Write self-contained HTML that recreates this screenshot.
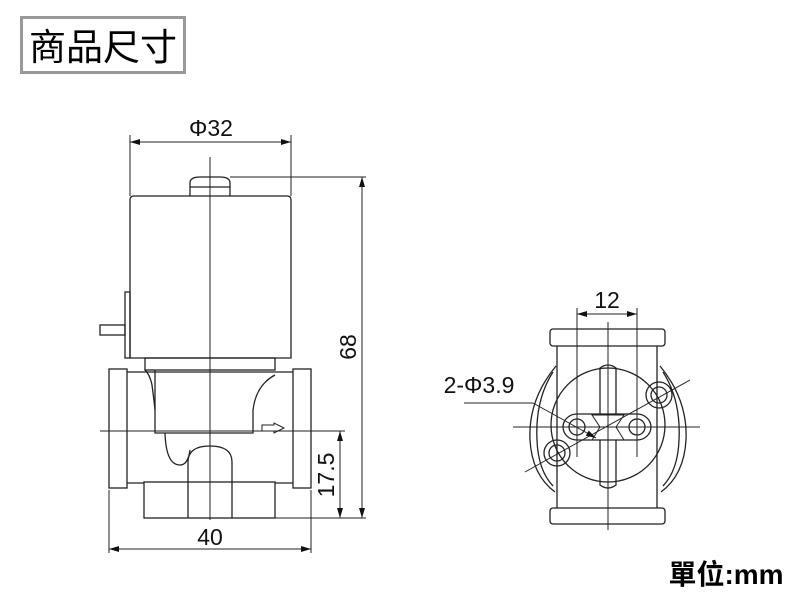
<!DOCTYPE html>
<html><head><meta charset="utf-8"><style>
html,body{margin:0;padding:0;background:#fff;width:800px;height:600px;overflow:hidden}
svg{display:block}
</style></head><body>
<svg width="800" height="600" viewBox="0 0 800 600" xmlns="http://www.w3.org/2000/svg">
<defs>
<marker id="a" viewBox="0 0 10 6" refX="10" refY="3" markerWidth="10" markerHeight="6" orient="auto-start-reverse" markerUnits="userSpaceOnUse">
<path d="M0,0 L10,3 L0,6 Z" fill="#111"/></marker>
</defs>
<rect x="21.5" y="17.5" width="163" height="55" fill="#fff" stroke="#999" stroke-width="3"/>
<text x="103" y="60" text-anchor="middle" font-family="Liberation Sans,'Noto Sans CJK TC',sans-serif" font-size="37" fill="#000">商品尺寸</text>
<text x="726" y="584" text-anchor="middle" font-family="Liberation Sans,'Noto Sans CJK TC',sans-serif" font-size="28" font-weight="bold" fill="#000">單位:mm</text>

<g fill="none" stroke="#222" stroke-width="1.3">
<path d="M130,200 Q130,196 134,196 L287,196 Q291,196 291,200 L291,358 L130,358 Z"/>
<path d="M190,196 L190,183 Q190,177 200,177 L220,177 Q230,177 230,183 L230,196"/>
<line x1="190" y1="187" x2="230" y2="187"/>
<rect x="125" y="292" width="5" height="66"/>
<rect x="100" y="325" width="25" height="10"/>
<rect x="145" y="358" width="130" height="12"/>
<rect x="109" y="369" width="18" height="119"/>
<rect x="293" y="369" width="18" height="119"/>
<line x1="127" y1="372" x2="293" y2="372"/>
<line x1="127" y1="483" x2="144" y2="483"/>
<line x1="275" y1="483" x2="293" y2="483"/>
<rect x="144" y="482" width="131" height="36"/>
<path d="M188,518 L188,462 Q188,446 210,446 Q232,446 232,462 L232,518"/>
<path d="M155,370 L155,433 L253,433 L253,410 Q256,385 275,375"/>
<path d="M145,370 Q150,375 152,385 Q154,400 155,410"/>
<path d="M165,433 Q166,465 180,465 Q188,465 190,450"/>
<path d="M262,425 L274,425 L274,423 L284,428 L274,433 L274,431 L262,431 Z" stroke-width="1"/>
</g>
<g stroke="#222" stroke-width="1" fill="none">
<line x1="210" y1="157" x2="210" y2="520"/>
<line x1="100" y1="431" x2="345" y2="431"/>
<line x1="130" y1="135" x2="130" y2="196"/>
<line x1="291" y1="135" x2="291" y2="196"/>
<line x1="130" y1="142" x2="291" y2="142" marker-start="url(#a)" marker-end="url(#a)"/>
<line x1="230" y1="177" x2="366" y2="177"/>
<line x1="275" y1="518" x2="366" y2="518"/>
<line x1="362" y1="177" x2="362" y2="518" marker-start="url(#a)" marker-end="url(#a)"/>
<line x1="340" y1="431" x2="340" y2="518" marker-start="url(#a)" marker-end="url(#a)"/>
<line x1="109" y1="490" x2="109" y2="553"/>
<line x1="311" y1="490" x2="311" y2="553"/>
<line x1="109" y1="549" x2="311" y2="549" marker-start="url(#a)" marker-end="url(#a)"/>
</g>
<g font-family="Liberation Sans,sans-serif" font-size="23" fill="#111">
<text x="211" y="136" text-anchor="middle">Φ32</text>
<text x="210" y="545" text-anchor="middle">40</text>
<text transform="translate(356,347) rotate(-90)" text-anchor="middle">68</text>
<text transform="translate(334,475) rotate(-90)" text-anchor="middle">17.5</text>
<text x="607" y="308" text-anchor="middle">12</text>
<text x="479" y="393" text-anchor="middle">2-Φ3.9</text>
</g>

<g fill="none" stroke="#222" stroke-width="1.3">
<rect x="550" y="329" width="115" height="17" rx="3"/>
<rect x="550" y="508" width="115" height="16" rx="3"/>
<line x1="557" y1="346" x2="557" y2="508"/>
<line x1="657" y1="346" x2="657" y2="508"/>
<circle cx="608" cy="425" r="57"/>
<path d="M577,414 L637,414 A14,13 0 0 1 637,440 L577,440 A14,13 0 0 1 577,414 Z"/>
<circle cx="577" cy="427" r="8"/>
<circle cx="637" cy="427" r="8"/>
<path d="M592,415 L624,415 L616,427 L624,440 L592,440 L600,427 Z" stroke-width="1"/>
<path d="M600,415 L600,368 Q608,362 616,368 L616,415"/>
<path d="M600,440 L600,485 Q608,491 616,485 L616,440"/>
<circle cx="659" cy="395" r="13"/>
<circle cx="659" cy="395" r="8"/>
<circle cx="557" cy="453" r="13"/>
<circle cx="557" cy="453" r="8"/>
<path d="M556,366 Q528,400 530,440 Q532,475 555,492"/>
<path d="M553,372 Q535,400 537,440 Q538,470 553,486"/>
<path d="M660,366 Q688,400 686,440 Q684,475 661,492"/>
<path d="M663,372 Q681,400 679,440 Q678,470 663,486"/>
</g>
<g stroke="#222" stroke-width="1" fill="none">
<line x1="608" y1="322" x2="608" y2="530"/>
<line x1="513" y1="427" x2="700" y2="427"/>
<line x1="525" y1="472" x2="690" y2="380"/>
<line x1="577" y1="308" x2="577" y2="457"/>
<line x1="637" y1="308" x2="637" y2="457"/>
<line x1="577" y1="314" x2="637" y2="314" marker-start="url(#a)" marker-end="url(#a)"/>
<line x1="464" y1="403" x2="533" y2="403"/>
<line x1="533" y1="403" x2="596" y2="438" marker-end="url(#a)"/>
</g>
</svg>
</body></html>
